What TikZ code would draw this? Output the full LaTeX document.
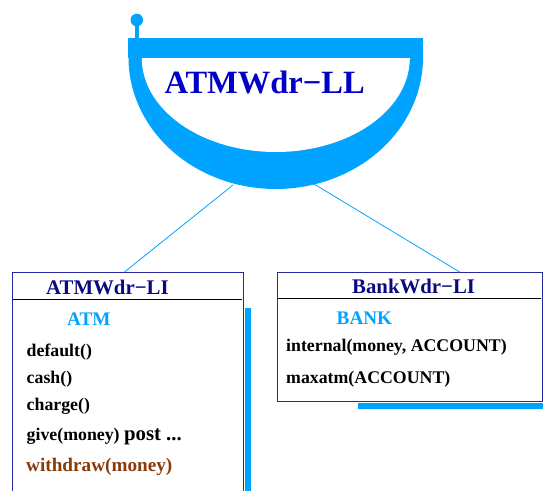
\documentclass[tikz,border=0pt]{standalone}
\usepackage{fontspec}
\setmainfont{Liberation Serif}
\usetikzlibrary{calc}
\definecolor{skyblue}{RGB}{0,163,255}
\definecolor{titleblue}{RGB}{0,0,200}
\definecolor{navy}{RGB}{10,10,128}
\definecolor{framecol}{RGB}{40,40,160}
\definecolor{rust}{RGB}{135,60,10}
\begin{document}
\begin{tikzpicture}[x=1pt,y=1pt,
  umlbox/.style={draw=framecol, line width=0.9pt, rectangle, inner sep=0pt, anchor=north west},
  shadowbar/.style={fill=skyblue, draw=none},
  link/.style={draw=skyblue, line width=0.8pt},
  sep/.style={draw=black, line width=0.6pt},
  txt/.style={anchor=base west, inner sep=0pt, font=\bfseries\fontsize{17.8}{20}\selectfont},
  header/.style={anchor=base west, inner sep=0pt, text=navy, font=\bfseries\fontsize{20.8}{24}\selectfont},
  classname/.style={anchor=base west, inner sep=0pt, text=skyblue, font=\bfseries\fontsize{19.2}{22}\selectfont},
  title/.style={anchor=base west, inner sep=0pt, text=titleblue, font=\bfseries\fontsize{32.5}{36}\selectfont}
]
\useasboundingbox (0,0) rectangle (543,-490);
\clip (0,0) rectangle (543,-490);

% boxes and their shadows
\fill[shadowbar] (245,-308) rectangle (251,-495);
\fill[shadowbar] (358,-403) rectangle (543,-409);
\node[umlbox, minimum width=231pt, minimum height=230pt] (atmli) at (12,-272) {};
\node[umlbox, minimum width=265pt, minimum height=129pt] (bankli) at (277,-272) {};
\draw[sep] (13,-299) -- (242,-299);
\draw[sep] (278,-298) -- (541,-298);

% connectors from the bowl to both boxes
\coordinate (bowlL) at (233,-185);
\coordinate (bowlR) at (314,-184);
\draw[link] (bowlL) -- ($(atmli.north west)!0.485!(atmli.north east)$);
\draw[link] (bowlR) -- ($(bankli.north west)!0.687!(bankli.north east)$);

% the bowl: blue half ellipse, white hollow, rim bar and knob
\fill[skyblue] plot[domain=180:360, samples=121]
  ({275.75+147.25*cos(\x)}, {-57.5+131.5*sin(\x)}) -- cycle;
\fill[white] plot[domain=180:360, samples=121]
  ({275.8+134*cos(\x)}, {-58+94*sin(\x)}) -- cycle;
\fill[skyblue] (128.2,-38.3) rectangle (423.3,-58);
\fill[skyblue] (135,-20) rectangle (139,-39);
\fill[skyblue] (136.8,-20) circle[radius=6.3pt];
\node[title] (ll) at (164.3,-93.3) {ATMWdr−LL};

% left box contents
\node[header] (hatm) at (46,-294.3) {ATMWdr−LI};
\node[classname] (catm) at (67,-325.7) {ATM};
\node[txt] (m1) at (26.5,-356.7) {default()};
\node[txt] (m2) at (26.5,-383.3) {cash()};
\node[txt] (m3) at (26.5,-410.7) {charge()};
\node[txt] (m4) at (26.5,-440) {give(money) {\fontsize{20.8}{24}\selectfont post ...}};
\node[txt, text=rust, font=\bfseries\fontsize{19.2}{22}\selectfont] (m5) at (26,-471.7) {withdraw(money)};

% right box contents
\node[header] (hbank) at (352,-293.3) {BankWdr−LI};
\node[classname] (cbank) at (336.5,-324) {BANK};
\node[txt] (b1) at (286,-351.7) {internal(money, ACCOUNT)};
\node[txt] (b2) at (286,-383.3) {maxatm(ACCOUNT)};
\end{tikzpicture}
\end{document}
